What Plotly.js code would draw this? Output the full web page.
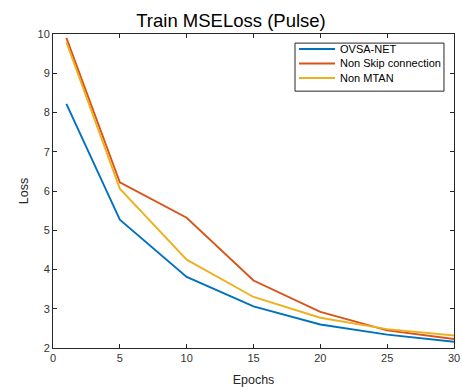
<!DOCTYPE html>
<html><head><meta charset="utf-8">
<script src="https://cdn.plot.ly/plotly-3.0.1.min.js"></script>
<style>html,body{margin:0;padding:0;background:#fff;}#chart{width:462px;height:387px;}</style>
</head><body><div id="chart"></div>
<script>
const epochs = [1, 5, 10, 15, 20, 25, 30];
const ovsaNet = [8.22, 5.27, 3.81, 3.06, 2.60, 2.34, 2.16];
const nonSkip = [9.90, 6.22, 5.32, 3.72, 2.92, 2.45, 2.23];
const nonMtan = [9.79, 6.06, 4.25, 3.30, 2.77, 2.48, 2.32];
const seriesNames = ["OVSA-NET", "Non Skip connection", "Non MTAN"];
const colors = ["#0072BD", "#D95319", "#EDB120"];
const xTicks = [0, 5, 10, 15, 20, 25, 30];
const yTicks = [2, 3, 4, 5, 6, 7, 8, 9, 10];

const font = "Liberation Sans, Arial, Helvetica, sans-serif";
const ys = [ovsaNet, nonSkip, nonMtan];
const traces = ys.map((y, i) => ({
  x: epochs, y: y, type: "scatter", mode: "lines", name: seriesNames[i],
  line: {color: colors[i], width: 1.9}, showlegend: false
}));
const axisCommon = {
  showline: true, mirror: "ticks", linecolor: "#262626", linewidth: 1,
  ticks: "inside", ticklen: 4, tickcolor: "#262626", showgrid: false, zeroline: false,
  tickfont: {family: font, size: 11, color: "#333"}
};

// Legend drawn in paper coordinates (MATLAB-style compact box)
const legBox = {x0: 0.6035, x1: 0.975, y0: 0.818, y1: 0.971};
const legRows = [0.9522, 0.9061, 0.8599];
const shapes = [{type: "rect", xref: "paper", yref: "paper", x0: legBox.x0, x1: legBox.x1,
  y0: legBox.y0, y1: legBox.y1, line: {color: "#262626", width: 1}, fillcolor: "#fff", layer: "above"}];
const annotations = [];
seriesNames.forEach((n, i) => {
  shapes.push({type: "line", xref: "paper", yref: "paper", x0: 0.6135, x1: 0.7032,
    y0: legRows[i], y1: legRows[i], line: {color: colors[i], width: 1.9}, layer: "above"});
  annotations.push({xref: "paper", yref: "paper", x: 0.7107, y: legRows[i], xanchor: "left",
    yanchor: "middle", text: n, showarrow: false, font: {family: font, size: 11, color: "#000"}});
});

const layout = {
  width: 462, height: 387,
  margin: {l: 53, r: 8, t: 34, b: 39},
  paper_bgcolor: "#fff", plot_bgcolor: "#fff",
  title: {text: "Train MSELoss (Pulse)", font: {family: font, size: 18.5, color: "#000"}, x: 0.5, xanchor: "center", y: 0.948, yanchor: "middle"},
  xaxis: Object.assign({}, axisCommon, {range: [0, 30], tickvals: xTicks, ticktext: xTicks.map(String),
    title: {text: "Epochs", font: {family: font, size: 12.5, color: "#262626"}, standoff: 12}}),
  yaxis: Object.assign({}, axisCommon, {range: [2, 10], tickvals: yTicks, ticktext: yTicks.map(String),
    title: {text: "Loss", font: {family: font, size: 12.5, color: "#262626"}, standoff: 6}}),
  showlegend: false,
  shapes: shapes,
  annotations: annotations
};
Plotly.newPlot("chart", traces, layout, {displayModeBar: false, staticPlot: true});
</script></body></html>
